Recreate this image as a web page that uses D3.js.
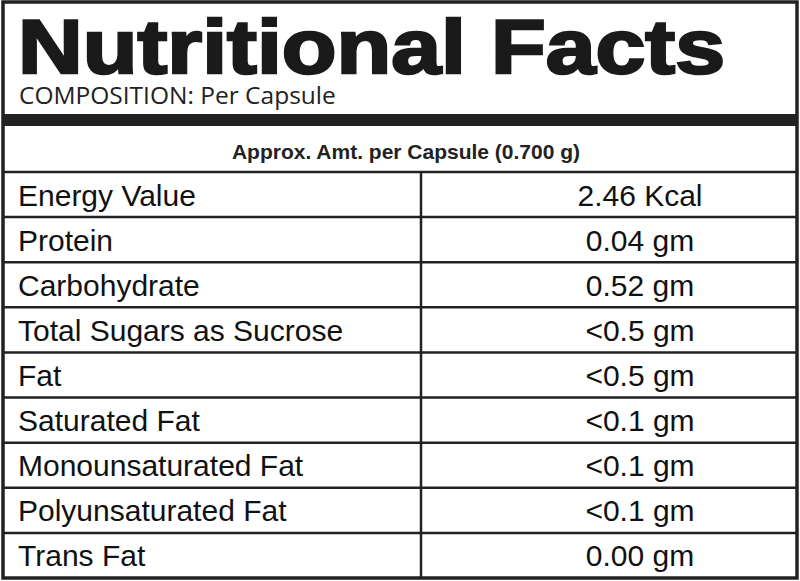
<!DOCTYPE html>
<html><head><meta charset="utf-8">
<script src="https://cdn.jsdelivr.net/npm/d3@7"></script>
<style>body{margin:0;background:#fff}</style></head>
<body><svg id="c" width="800" height="581"></svg>
<script>
const nutrients = ["Energy Value","Protein","Carbohydrate","Total Sugars as Sucrose","Fat","Saturated Fat","Monounsaturated Fat","Polyunsaturated Fat","Trans Fat"];
const amounts = ["2.46 Kcal","0.04 gm","0.52 gm","<0.5 gm","<0.5 gm","<0.1 gm","<0.1 gm","<0.1 gm","0.00 gm"];
const title = "Nutritional Facts";
const subtitle = "COMPOSITION: Per Capsule";
const header = "Approx. Amt. per Capsule (0.700 g)";

const svg = d3.select("#c");
const L=3, R=797, T=2, B=578, colX=421, tableTop=172;
const y = d3.scaleBand().domain(d3.range(nutrients.length)).range([tableTop,B]);
svg.append("rect").attr("x",L).attr("y",T).attr("width",R-L).attr("height",B-T)
  .attr("fill","#fff").attr("stroke","#222").attr("stroke-width",3.5);
svg.append("text").attr("x",18).attr("y",73).attr("textLength",707).attr("lengthAdjust","spacingAndGlyphs")
  .attr("font-family","Liberation Sans, Arial").attr("font-weight",900).attr("font-size",76)
  .attr("fill","#1a1a1a").attr("stroke","#1a1a1a").attr("stroke-width",2.5).text(title);
svg.append("text").attr("x",19).attr("y",104).attr("font-family","Open Sans").attr("font-size",24.5)
  .attr("fill","#222").text(subtitle);
svg.append("rect").attr("x",L).attr("y",114).attr("width",R-L).attr("height",12).attr("fill","#222");
svg.append("text").attr("x",406).attr("y",159).attr("text-anchor","middle")
  .attr("font-family","Liberation Sans, Arial").attr("font-weight","bold").attr("font-size",21)
  .attr("fill","#222").text(header);
svg.append("line").attr("x1",L).attr("x2",R).attr("y1",tableTop).attr("y2",tableTop).attr("stroke","#222").attr("stroke-width",2.5);
svg.append("line").attr("x1",colX).attr("x2",colX).attr("y1",tableTop).attr("y2",B).attr("stroke","#222").attr("stroke-width",2.5);
const rows = svg.selectAll("g.r").data(nutrients).join("g").attr("class","r");
rows.filter((d,i)=>i>0).append("line").attr("x1",L).attr("x2",R)
  .attr("y1",d=>y(nutrients.indexOf(d))).attr("y2",d=>y(nutrients.indexOf(d))).attr("stroke","#222").attr("stroke-width",2.5);
rows.append("text").attr("x",18).attr("y",(d,i)=>y(i)+y.bandwidth()/2+11)
  .attr("font-family","Liberation Sans, Arial").attr("font-size",30).attr("fill","#111").text(d=>d);
rows.append("text").attr("x",640).attr("y",(d,i)=>y(i)+y.bandwidth()/2+11).attr("text-anchor","middle")
  .attr("font-family","Liberation Sans, Arial").attr("font-size",30).attr("fill","#111").text((d,i)=>amounts[i]);
</script></body></html>
